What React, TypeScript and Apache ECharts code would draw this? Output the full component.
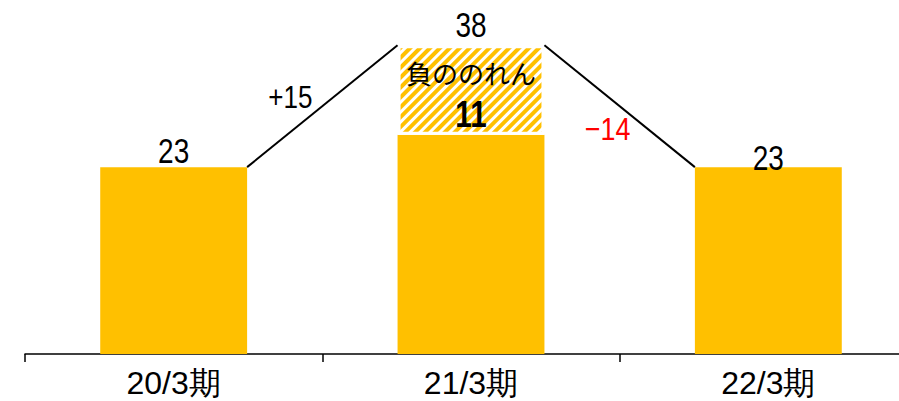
import React, { useEffect, useRef } from "react";
import * as echarts from "echarts";

const categories = ["20/3期", "21/3期", "22/3期"];
const baseValues = [23, 27, 23];
const goodwillValues: (number | string)[] = ["-", 11, "-"];
const goodwillName = "負ののれん";
const totalValues = [23, 38, 23];
const totalLabels = ["23", "38", "23"];
const goodwillLabel = "11";
// connectors: [fromIndex, fromValue, toIndex, toValue]
const connectors = [
  [0, 23, 1, 38],
  [1, 38, 2, 23],
];
const diffLabels = ["+15", "−14"];

const YELLOW = "#FFC000";
const NUM_FONT = "'Liberation Sans', Arial, sans-serif";
const JP_FONT = "'Noto Sans CJK JP', sans-serif";
const BAR_RATIO = 0.494;
const NARROW = 0.8;

export default function App() {
  const ref = useRef<HTMLDivElement>(null);
  useEffect(() => {
    if (!ref.current) return;
    const chart = echarts.init(ref.current, undefined, { renderer: "svg" });
    const diffOffsets = [
      [-32, -9],
      [-12, 22],
    ];
    const diffColors = ["#000", "#FF0000"];
    const diffSizes = [31, 32];
    const totalOffsets = [-16, -20, -9];
    chart.setOption({
      animation: false,
      grid: {
        left: 25,
        right: -18,
        top: 29,
        bottom: 47,
        containLabel: false,
        outerBoundsMode: "none",
      },
      xAxis: {
        type: "category",
        data: categories,
        axisLine: { lineStyle: { color: "#000", width: 1.5 } },
        axisTick: {
          show: true,
          length: 8,
          alignWithLabel: false,
          lineStyle: { color: "#000", width: 1.5 },
        },
        axisLabel: {
          color: "#000",
          fontSize: 32,
          fontFamily: NUM_FONT,
          margin: 13,
        },
      },
      yAxis: {
        type: "value",
        min: 0,
        max: 40,
        show: false,
        splitLine: { show: false },
      },
      series: [
        {
          type: "bar",
          stack: "a",
          barWidth: BAR_RATIO * 100 + "%",
          data: baseValues,
          itemStyle: { color: YELLOW },
        },
        {
          type: "bar",
          stack: "a",
          data: goodwillValues,
          itemStyle: {
            color: "#fff",
            borderColor: "#fff",
            borderWidth: 3,
            decal: {
              symbol: "rect",
              symbolSize: 1,
              color: YELLOW,
              backgroundColor: "#fff",
              dashArrayX: [1, 0],
              dashArrayY: [4, 3],
              rotation: -Math.PI / 4,
            },
          },
          label: {
            show: true,
            position: "insideTop",
            distance: 14,
            formatter: goodwillName,
            fontFamily: JP_FONT,
            fontSize: 26,
            color: "#000",
          },
        },
        {
          // value labels (narrow digits)
          type: "custom",
          z: 10,
          data: totalValues.map((v, i) => [i, v]),
          renderItem: (params: any, api: any) => {
            const i = params.dataIndex;
            const p = api.coord([api.value(0), api.value(1)]);
            const children: any[] = [
              {
                type: "text",
                x: p[0],
                y: p[1] + totalOffsets[i],
                scaleX: NARROW,
                z2: 10,
                style: {
                  text: totalLabels[i],
                  fill: "#000",
                  fontSize: 35,
                  fontFamily: NUM_FONT,
                  align: "center",
                  verticalAlign: "middle",
                },
              },
            ];
            if (i === 1) {
              children.push({
                type: "text",
                x: p[0],
                y: p[1] + 69,
                scaleX: NARROW,
                z2: 10,
                style: {
                  text: goodwillLabel,
                  fill: "#000",
                  fontSize: 37,
                  fontWeight: "bold",
                  fontFamily: NUM_FONT,
                  align: "center",
                  verticalAlign: "middle",
                },
              });
            }
            return { type: "group", children };
          },
        },
        {
          type: "custom",
          z: 10,
          data: connectors,
          renderItem: (params: any, api: any) => {
            const i = params.dataIndex;
            const p1 = api.coord([api.value(0), api.value(1)]);
            const p2 = api.coord([api.value(2), api.value(3)]);
            const half = (api.size([1, 0])[0] * BAR_RATIO) / 2;
            const x1 = p1[0] + half;
            const x2 = p2[0] - half;
            const mx = (x1 + x2) / 2 + diffOffsets[i][0];
            const my = (p1[1] + p2[1]) / 2 + diffOffsets[i][1];
            return {
              type: "group",
              children: [
                {
                  type: "line",
                  shape: { x1, y1: p1[1], x2, y2: p2[1] },
                  style: { stroke: "#000", lineWidth: 2 },
                },
                {
                  type: "text",
                  x: mx,
                  y: my,
                  scaleX: 0.84,
                  style: {
                    text: diffLabels[i],
                    fill: diffColors[i],
                    fontSize: diffSizes[i],
                    fontFamily: NUM_FONT,
                    align: "center",
                    verticalAlign: "middle",
                  },
                },
              ],
            };
          },
        },
      ],
    });
    return () => chart.dispose();
  }, []);
  return (
    <div
      ref={ref}
      style={{ position: "absolute", left: 0, top: 0, width: 899, height: 401 }}
    />
  );
}
